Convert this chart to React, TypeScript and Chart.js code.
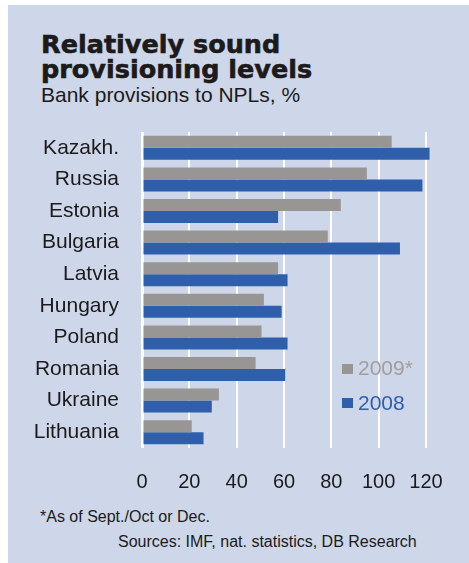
import React, { useEffect, useRef } from "react";
import { Chart, registerables } from "chart.js";

Chart.register(...registerables);

const categories = ["Kazakh.", "Russia", "Estonia", "Bulgaria", "Latvia", "Hungary", "Poland", "Romania", "Ukraine", "Lithuania"];
const values2009 = [105.5, 95, 84, 78.5, 57.5, 51.5, 50.5, 48, 32.5, 21];
const values2008 = [121.5, 118.5, 57.5, 109, 61.5, 59, 61.5, 60.5, 29.5, 26];
const xTicks = [0, 20, 40, 60, 80, 100, 120];
const seriesNames = ["2009*", "2008"];

const BG = "#cdd7e9";
const GRAY = "#989694";
const BLUE = "#2f5fab";
const TEXT = "#1c1a1a";
const FONT = "'Liberation Sans', Arial, sans-serif";

export default function App() {
  const ref = useRef<HTMLCanvasElement | null>(null);

  useEffect(() => {
    if (!ref.current) return;
    const chart = new Chart(ref.current, {
      type: "bar",
      data: {
        labels: categories,
        datasets: [
          { label: seriesNames[0], data: values2009, backgroundColor: GRAY, borderWidth: 0, categoryPercentage: 0.76, barPercentage: 1, clip: false },
          { label: seriesNames[1], data: values2008, backgroundColor: BLUE, borderWidth: 0, categoryPercentage: 0.76, barPercentage: 1, clip: false },
        ],
      },
      options: {
        indexAxis: "y",
        animation: false,
        responsive: false,
        layout: { padding: { top: 12, right: 43, bottom: 0, left: 0 } },
        plugins: { legend: { display: false }, tooltip: { enabled: false } },
        scales: {
          x: {
            min: xTicks[0],
            max: xTicks[xTicks.length - 1],
            afterBuildTicks: (scale: any) => {
              scale.ticks = xTicks.map((v) => ({ value: v }));
            },
            afterFit: (scale: any) => {
              scale.height = 52;
              scale.paddingLeft = 0;
              scale.paddingRight = 0;
            },
            grid: {
              color: "#ffffff",
              lineWidth: (ctx: any) => (ctx.tick && ctx.tick.value === 0 ? 3 : 2),
              drawTicks: false,
            },
            border: { display: false },
            ticks: {
              color: TEXT,
              font: { family: FONT, size: 20 },
              padding: 22,
            },
          },
          y: {
            afterFit: (scale: any) => {
              scale.width = 134;
              scale.paddingTop = 0;
              scale.paddingBottom = 0;
            },
            grid: { display: false, drawTicks: false },
            border: { display: false },
            ticks: {
              color: TEXT,
              font: { family: FONT, size: 21 },
              padding: 23,
            },
          },
        },
      },
    });
    return () => chart.destroy();
  }, []);

  const abs = (s: React.CSSProperties): React.CSSProperties => ({ position: "absolute", margin: 0, whiteSpace: "nowrap", ...s });

  return (
    <div>
      <div style={abs({ left: 8, top: 5, width: 461, height: 558, background: BG })} />
      <div
        style={abs({
          left: 41,
          top: 32,
          fontFamily: "'DejaVu Sans', sans-serif",
          fontWeight: 700,
          fontSize: 25.5,
          lineHeight: "25px",
          color: TEXT,
          WebkitTextStroke: "0.6px " + TEXT,
        } as React.CSSProperties)}
      >
        Relatively sound
        <br />
        provisioning levels
      </div>
      <div style={abs({ left: 41, top: 84, fontFamily: FONT, fontSize: 21, lineHeight: "21px", color: TEXT })}>
        Bank provisions to NPLs, %
      </div>
      <div style={abs({ left: 8, top: 120, width: 461, height: 380 })}>
        <canvas ref={ref} width={461} height={380} style={{ display: "block" }} />
      </div>
      <div style={abs({ left: 342, top: 364, width: 11, height: 10, background: GRAY })} />
      <div style={abs({ left: 358, top: 357, fontFamily: FONT, fontSize: 21, lineHeight: "21px", color: "#a09e9c" })}>{seriesNames[0]}</div>
      <div style={abs({ left: 342, top: 398, width: 11, height: 10, background: BLUE })} />
      <div style={abs({ left: 358, top: 392, fontFamily: FONT, fontSize: 21, lineHeight: "21px", color: BLUE })}>{seriesNames[1]}</div>
      <div style={abs({ left: 40, top: 509, fontFamily: FONT, fontSize: 16, lineHeight: "16px", color: TEXT })}>*As of Sept./Oct or Dec.</div>
      <div style={abs({ left: 118, top: 534, fontFamily: FONT, fontSize: 16, lineHeight: "16px", color: TEXT })}>Sources: IMF, nat. statistics, DB Research</div>
    </div>
  );
}
